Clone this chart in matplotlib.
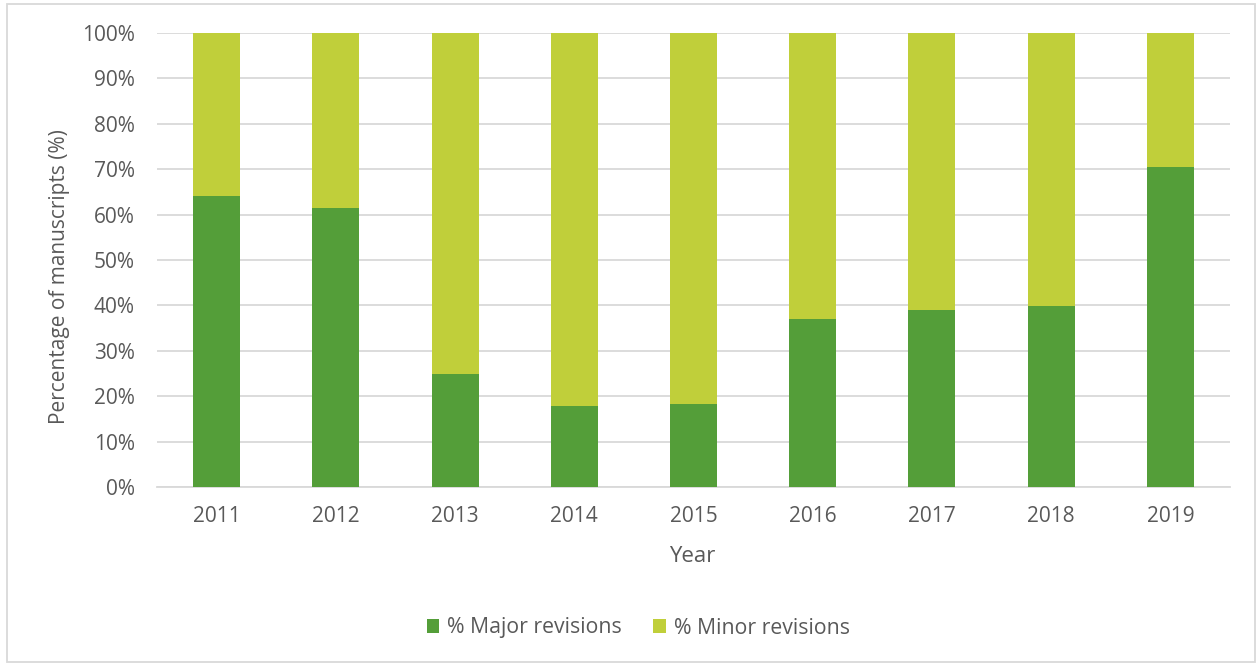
import matplotlib
matplotlib.use("Agg")
import matplotlib.pyplot as plt
from matplotlib.patches import Rectangle
import numpy as np

years = ["2011", "2012", "2013", "2014", "2015", "2016", "2017", "2018", "2019"]
major = [64.2, 61.5, 25.0, 17.8, 18.2, 37.1, 39.0, 39.9, 70.5]
minor = [100 - m for m in major]
series_names = ["% Major revisions", "% Minor revisions"]
yticks = list(range(0, 101, 10))

plt.rcParams['font.family'] = ['Open Sans', 'DejaVu Sans']
TXT = '#595959'
C_MAJOR = '#549E39'
C_MINOR = '#C0CF3A'

W, H = 1260, 666
fig = plt.figure(figsize=(W / 100, H / 100), dpi=100)
ax = fig.add_axes([157 / W, 1 - 487 / H, (1230 - 157) / W, (487 - 33) / H])

x = np.arange(len(years))
ax.bar(x, major, width=0.394, color=C_MAJOR, label=series_names[0], zorder=3)
ax.bar(x, minor, width=0.394, bottom=major, color=C_MINOR, label=series_names[1], zorder=3)

ax.set_xlim(-0.5, len(years) - 0.5)
ax.set_ylim(0, 100)
ax.set_yticks(yticks)
ax.set_yticklabels([f"{t}%" for t in yticks])
ax.set_xticks(x)
ax.set_xticklabels(years)
ax.grid(axis='y', color='#D9D9D9', linewidth=1.3, zorder=0)
for s in ['top', 'right', 'left']:
    ax.spines[s].set_visible(False)
ax.spines['bottom'].set_color('#D9D9D9')
ax.spines['bottom'].set_linewidth(1.3)
ax.tick_params(axis='both', length=0, labelsize=15, colors=TXT)
ax.tick_params(axis='y', pad=16)
ax.tick_params(axis='x', pad=14)

fig.text(692 / W, 1 - 556 / H, "Year", fontsize=16, color=TXT,
         ha='center', va='center')
fig.text(60 / W, 1 - 277 / H, "Percentage of manuscripts (%)", fontsize=15,
         color=TXT, ha='center', va='center', rotation=90)

leg = fig.legend(loc='center', bbox_to_anchor=(638 / W, 1 - 628 / H), ncol=2, frameon=False,
                 fontsize=15.3, handlelength=0.6, handleheight=0.6, columnspacing=1.5,
                 handletextpad=0.35, labelcolor=TXT)

fig.patches.append(Rectangle((7 / W, 4 / H), (1255 - 7) / W, (662 - 4) / H,
                             transform=fig.transFigure, fill=False,
                             edgecolor='#D9D9D9', linewidth=1.3))

fig.savefig("out.png", dpi=100)
